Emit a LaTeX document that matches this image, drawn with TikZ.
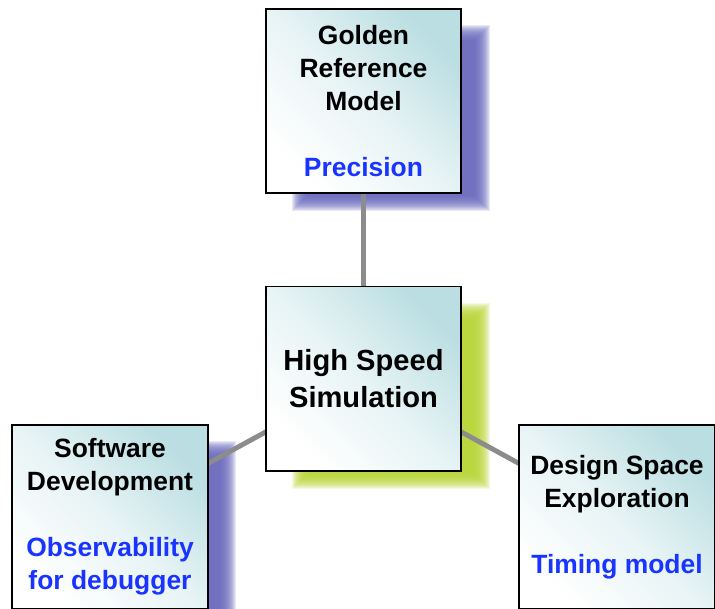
\documentclass[tikz,border=0pt]{standalone}
\usepackage{fontspec}
\setmainfont{Liberation Sans}
\usepackage{xcolor}
\usetikzlibrary{backgrounds}
\definecolor{boxteal}{RGB}{186,222,226}
\definecolor{shadowblue}{RGB}{103,103,188}
\definecolor{shadowgreen}{RGB}{182,212,50}
\definecolor{linkgray}{RGB}{140,140,140}
\definecolor{noteblue}{RGB}{26,52,255}
\tikzstyle{box} = [rectangle, draw=black, line width=1.4pt, minimum width=4.875cm, minimum height=4.6cm, inner sep=0pt, align=center, top color=boxteal, bottom color=white, middle color=white!65!boxteal, shading angle=-45, font=\fontsize{18.8}{23.5}\selectfont\bfseries]
\tikzstyle{bigbox} = [box, font=\fontsize{20.7}{26.5}\selectfont\bfseries]
\tikzstyle{link} = [linkgray, line width=3.5pt]
\newcommand{\note}[1]{\textcolor{noteblue}{#1}}
% soft drop shadow: stacked see-through rectangles, a little smaller than the box
\newcommand{\softshadow}[2]{%
  \foreach \e in {8,7,...,-8}
    \fill[#2, opacity=0.15] ([shift={({35.5-(\e)},{25-(\e)})}]#1.north west) rectangle ([shift={({19.5+(\e)},{9+(\e)})}]#1.south east);
}

\begin{document}
\begin{tikzpicture}[x=0.025cm, y=-0.025cm]
    \useasboundingbox (0,0) rectangle (715,608);

    \node (gold) [box] at (363.5,101) {Golden\\Reference\\Model\\[23.5pt]\note{Precision}};

    \node (sim) [bigbox] at (363.5,378.5) {High Speed\\Simulation};

    \node (soft) [box] at (110,517) {Software\\Development\\[23.5pt]\note{Observability}\\\note{for debugger}};
    \node (dse) [box] at (617,517) {Design Space\\Exploration\\[23.5pt]\note{Timing model}};

    \begin{scope}[on background layer]
        \softshadow{gold}{shadowblue}
        \softshadow{sim}{shadowgreen}
        \softshadow{soft}{shadowblue}

        \draw [link] (sim.center) -- (gold.center);
        \draw [link] (sim.center) -- (soft.center);
        \draw [link] (sim.center) -- (dse.center);
    \end{scope}
  \end{tikzpicture}
\end{document}
